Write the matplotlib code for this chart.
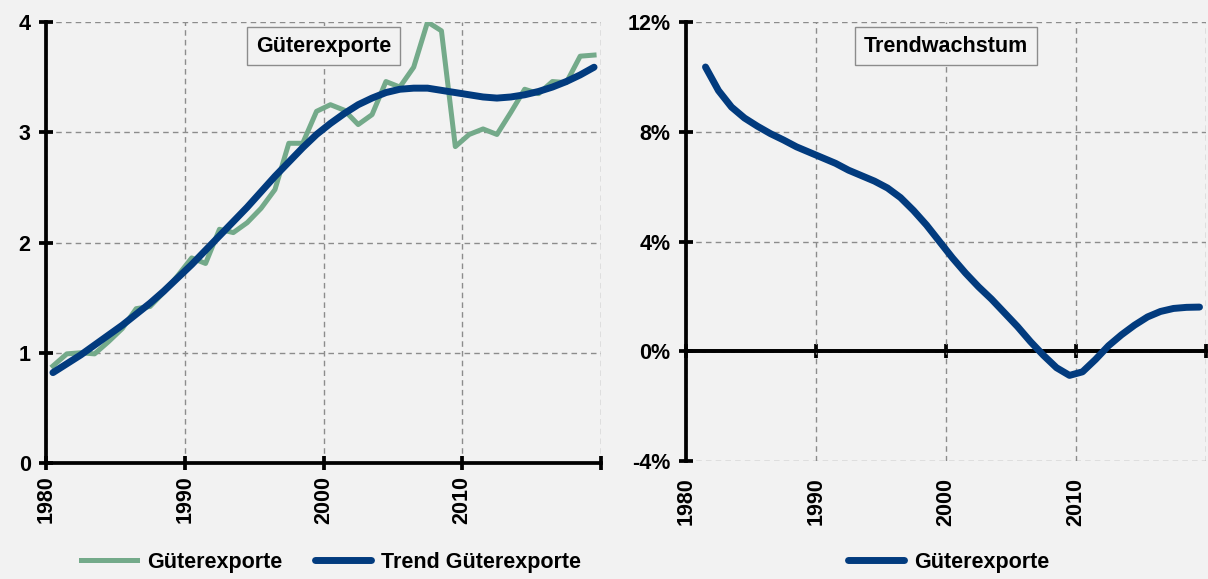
import numpy as np
import matplotlib.pyplot as plt
import matplotlib

matplotlib.rcParams['font.family'] = ['Liberation Sans', 'DejaVu Sans']
matplotlib.rcParams['font.weight'] = 'bold'

# data: yearly values 1980-2019, trend growth 1981-2019
years = np.arange(1980, 2020)
exports = [0.88, 0.99, 1.00, 0.99, 1.10, 1.22, 1.40, 1.42, 1.55, 1.70,
           1.86, 1.81, 2.12, 2.09, 2.18, 2.31, 2.48, 2.90, 2.90, 3.19,
           3.25, 3.20, 3.07, 3.16, 3.46, 3.41, 3.59, 4.00, 3.92, 2.87,
           2.98, 3.03, 2.98, 3.18, 3.39, 3.35, 3.46, 3.45, 3.69, 3.70]
trend = [0.82, 0.90, 0.98, 1.07, 1.16, 1.25, 1.35, 1.45, 1.56, 1.68,
         1.80, 1.93, 2.06, 2.19, 2.32, 2.46, 2.60, 2.73, 2.86, 2.98,
         3.08, 3.17, 3.25, 3.31, 3.36, 3.39, 3.40, 3.40, 3.38, 3.36,
         3.34, 3.32, 3.31, 3.32, 3.34, 3.37, 3.41, 3.46, 3.52, 3.59]
growth_years = np.arange(1981, 2020)
growth = [10.36, 9.5, 8.9, 8.5, 8.2, 7.93, 7.7, 7.45, 7.25,
          7.05, 6.85, 6.6, 6.4, 6.2, 5.95, 5.6, 5.13, 4.6, 4.0,
          3.4, 2.85, 2.35, 1.9, 1.4, 0.9, 0.35, -0.15, -0.6, -0.88,
          -0.75, -0.3, 0.2, 0.6, 0.95, 1.25, 1.45, 1.56, 1.60, 1.61]

x_ticks = [1980, 1990, 2000, 2010, 2020]
x_labels = ['1980', '1990', '2000', '2010', '']

bg = '#F2F2F2'
green = '#74AA8A'
blue = '#023B7E'
fs = 15.5

fig = plt.figure(figsize=(12.08, 5.79), dpi=100, facecolor=bg)
ax1 = fig.add_axes([46 / 1208, 0.2003, 555 / 1208, 0.7617])
ax2 = fig.add_axes([686 / 1208, 0.2038, 520 / 1208, 0.7582])


def style(ax):
    ax.set_facecolor(bg)
    ax.set_xlim(1980, 2020)
    ax.set_xticks(x_ticks)
    ax.set_xticklabels(x_labels, rotation=90, fontsize=fs, fontweight='bold')
    ax.grid(True, color='#8C8C8C', linestyle=(0, (4, 3)), lw=1.0)
    ax.set_axisbelow(True)
    for s in ['top', 'right']:
        ax.spines[s].set_visible(False)
    ax.spines['left'].set_linewidth(2.7)
    ax.tick_params(axis='y', direction='inout', length=10, width=2.7, pad=6,
                   labelsize=fs)
    for lbl in ax.get_yticklabels():
        lbl.set_fontweight('bold')


# left panel
x = years + 0.5
ax1.plot(x, exports, color=green, lw=3.6, solid_joinstyle='round',
         label='Güterexporte')
ax1.plot(x, trend, color=blue, lw=5, solid_capstyle='round',
         solid_joinstyle='round', label='Trend Güterexporte')
ax1.set_ylim(0, 4)
ax1.set_yticks([0, 1, 2, 3, 4])
style(ax1)
ax1.spines['bottom'].set_linewidth(2.7)
ax1.tick_params(axis='x', direction='inout', length=10, width=2.7, pad=4)
ax1.text(0.5, 0.945, 'Güterexporte', transform=ax1.transAxes, ha='center',
         va='center', fontsize=fs, fontweight='bold',
         bbox=dict(boxstyle='square,pad=0.4', fc=bg, ec='#8C8C8C', lw=1))
fig.legend(handles=ax1.get_lines(), loc='center', bbox_to_anchor=(0.274, 0.029),
           ncol=2, frameon=False, handlelength=2.6,
           columnspacing=1.5, handletextpad=0.47,
           prop={'weight': 'bold', 'size': fs})

# right panel
ax2.axhline(0, color='black', lw=2.7, zorder=1.5)
ax2.plot(growth_years + 0.5, growth, color=blue, lw=5, solid_capstyle='round',
         solid_joinstyle='round', label='Güterexporte', zorder=3)
ax2.set_ylim(-4, 12)
ax2.set_yticks([-4, 0, 4, 8, 12])
ax2.set_yticklabels(['-4%', '0%', '4%', '8%', '12%'])
style(ax2)
ax2.spines['bottom'].set_visible(False)
ax2.tick_params(axis='x', length=0, pad=12)
zero = ax2.secondary_xaxis(0.25)
zero.set_xticks(x_ticks)
zero.spines['bottom'].set_linewidth(2.7)
zero.tick_params(direction='inout', length=10, width=2.7, labelbottom=False)
ax2.text(0.5, 0.945, 'Trendwachstum', transform=ax2.transAxes, ha='center',
         va='center', fontsize=fs, fontweight='bold',
         bbox=dict(boxstyle='square,pad=0.4', fc=bg, ec='#8C8C8C', lw=1))
fig.legend(handles=[ax2.get_lines()[1]], loc='center',
           bbox_to_anchor=(0.785, 0.029),
           frameon=False, handlelength=2.6, handletextpad=0.47,
           prop={'weight': 'bold', 'size': fs})

fig.savefig('out.png', dpi=100, facecolor=bg)
